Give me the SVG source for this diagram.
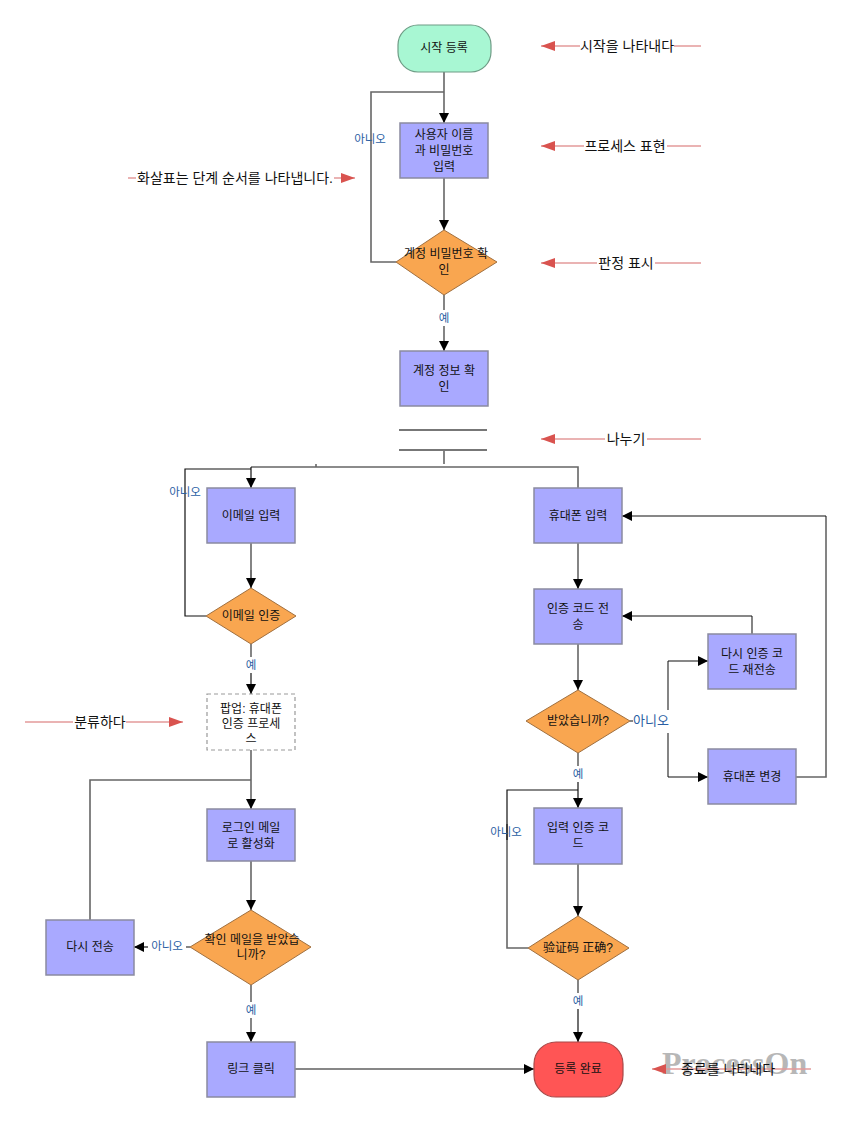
<svg xmlns="http://www.w3.org/2000/svg" width="851" height="1122" viewBox="0 0 851 1122">
<defs>
<marker id="arr" viewBox="0 0 10 10" refX="10" refY="5" markerWidth="10" markerHeight="10" markerUnits="userSpaceOnUse" orient="auto">
<path d="M0,0 L10,5 L0,10 z" fill="#000"/>
</marker>
<marker id="rarr" viewBox="0 0 14 10" refX="14" refY="5" markerWidth="14" markerHeight="10" markerUnits="userSpaceOnUse" orient="auto">
<path d="M0,0 L14,5 L0,10 z" fill="#d9534f"/>
</marker>
<style>
text{font-family:"Liberation Sans","Noto Sans CJK KR","Noto Sans CJK SC",sans-serif;}
.t{font-size:12px;fill:#111;text-anchor:middle;}
.a{font-size:14px;fill:#111;text-anchor:middle;}
.lbl{font-size:11.5px;fill:#2a5ea3;text-anchor:middle;}
.proc{fill:#a9a9ff;stroke:#8a8aa0;stroke-width:1.5;}
.dec{fill:#f9a650;stroke:#a07040;stroke-width:1;}
.c{fill:none;stroke:#666;stroke-width:1.6;}
.cb{fill:none;stroke:#111;stroke-width:1.2;}
.ann{fill:none;stroke:#e39a9a;stroke-width:1.5;}
</style>
</defs>
<rect width="851" height="1122" fill="#fff"/>

<g id="connectors">
<path class="c" d="M444,72 V123" marker-end="url(#arr)"/>
<path class="c" d="M396,262 H371 V92 H444"/>
<path class="c" d="M444,178 V230" marker-end="url(#arr)"/>
<path class="c" d="M444,295 V310"/>
<path class="c" d="M444,326 V351" marker-end="url(#arr)"/>
<path class="c" d="M444,450 V464"/>
<path class="c" d="M251,467 H578 V488"/>
<path class="c" d="M316,464 V467"/>
<path class="cb" d="M251,467 V488" marker-end="url(#arr)"/>
<path class="cb" d="M206,616 H185 V469 H251"/>
<path class="c" d="M251,543 V570"/>
<path class="cb" d="M251,570 V588" marker-end="url(#arr)"/>
<path class="c" d="M251,644 V657"/>
<path class="cb" d="M251,673 V694" marker-end="url(#arr)"/>
<path class="c" d="M251,750 V809" marker-end="url(#arr)"/>
<path class="c" d="M90,920 V780 H251"/>
<path class="c" d="M251,861 V910" marker-end="url(#arr)"/>
<path class="c" d="M190,947 H186"/>
<path class="cb" d="M148,947 H134" marker-end="url(#arr)"/>
<path class="c" d="M251,985 V1002"/>
<path class="c" d="M251,1018 V1042" marker-end="url(#arr)"/>
<path class="cb" d="M295,1069 H534" marker-end="url(#arr)"/>
<path class="c" d="M578,543 V589" marker-end="url(#arr)"/>
<path class="c" d="M578,644 V690" marker-end="url(#arr)"/>
<path class="c" d="M630,721 H633"/>
<path class="c" d="M668,733 V777"/>
<path class="cb" d="M668,777 H708" marker-end="url(#arr)"/>
<path class="c" d="M668,710 V661"/>
<path class="cb" d="M668,661 H708" marker-end="url(#arr)"/>
<path class="c" d="M752,634 V616"/>
<path class="cb" d="M752,616 H622" marker-end="url(#arr)"/>
<path class="c" d="M796,777 H826 V516"/>
<path class="cb" d="M826,516 H622" marker-end="url(#arr)"/>
<path class="c" d="M578,753 V766"/>
<path class="cb" d="M578,782 V790"/>
<path class="cb" d="M578,790 V808" marker-end="url(#arr)"/>
<path class="c" d="M528,948 H507 V824"/>
<path class="cb" d="M507,840 V790 H578"/>
<path class="c" d="M578,864 V916" marker-end="url(#arr)"/>
<path class="c" d="M578,980 V993"/>
<path class="cb" d="M578,1009 V1042" marker-end="url(#arr)"/>
<text class="lbl" x="370" y="143">아니오</text>
<text class="lbl" x="444" y="322">예</text>
<text class="lbl" x="185" y="496">아니오</text>
<text class="lbl" x="251" y="669">예</text>
<text class="lbl" x="167" y="950">아니오</text>
<text class="lbl" x="251" y="1014">예</text>
<text class="lbl" x="651" y="725" style="font-size:13px">아니오</text>
<text class="lbl" x="578" y="778">예</text>
<text class="lbl" x="506" y="836">아니오</text>
<text class="lbl" x="578" y="1005">예</text>
</g>

<g id="start">
<rect x="398" y="25" width="93" height="47" rx="20" ry="20" fill="#a8f7d3" stroke="#6f9c86" stroke-width="1.2"/>
<text class="t" x="444" y="52">시작 등록</text>
</g>
<g id="input-user">
<rect class="proc" x="400" y="123" width="88" height="55"/>
<text class="t" x="444" y="139">사용자 이름</text>
<text class="t" x="444" y="155">과 비밀번호</text>
<text class="t" x="444" y="171">입력</text>
</g>
<g id="check-pw">
<polygon class="dec" points="444,230 497,262 444,295 396,262"/>
<text class="t" x="446" y="258">계정 비밀번호 확</text>
<text class="t" x="444" y="274">인</text>
</g>
<g id="account-info">
<rect class="proc" x="400" y="351" width="88" height="55"/>
<text class="t" x="444" y="375">계정 정보 확</text>
<text class="t" x="444" y="391">인</text>
</g>
<g id="fork">
<line x1="399" y1="430" x2="487" y2="430" stroke="#777" stroke-width="2"/>
<line x1="399" y1="450" x2="487" y2="450" stroke="#777" stroke-width="2"/>
</g>
<g id="email-input">
<rect class="proc" x="207" y="488" width="88" height="55"/>
<text class="t" x="251" y="520">이메일 입력</text>
</g>
<g id="email-verify">
<polygon class="dec" points="251,588 296,616 251,644 206,616"/>
<text class="t" x="251" y="620">이메일 인증</text>
</g>
<g id="popup">
<rect x="207" y="694" width="88" height="56" fill="#fff" stroke="#999" stroke-width="1.2" stroke-dasharray="4,3"/>
<text class="t" x="251" y="713">팝업: 휴대폰</text>
<text class="t" x="251" y="728">인증 프로세</text>
<text class="t" x="251" y="743">스</text>
</g>
<g id="login-mail">
<rect class="proc" x="207" y="809" width="88" height="52"/>
<text class="t" x="251" y="832">로그인 메일</text>
<text class="t" x="251" y="848">로 활성화</text>
</g>
<g id="confirm-mail">
<polygon class="dec" points="251,910 311,947 251,985 190,947"/>
<text class="t" x="252" y="944">확인 메일을 받았습</text>
<text class="t" x="251" y="959">니까?</text>
</g>
<g id="resend">
<rect class="proc" x="46" y="920" width="88" height="55"/>
<text class="t" x="90" y="951">다시 전송</text>
</g>
<g id="click-link">
<rect class="proc" x="207" y="1042" width="88" height="55"/>
<text class="t" x="251" y="1073">링크 클릭</text>
</g>
<g id="phone-input">
<rect class="proc" x="534" y="488" width="88" height="55"/>
<text class="t" x="578" y="520">휴대폰 입력</text>
</g>
<g id="send-code">
<rect class="proc" x="534" y="589" width="88" height="55"/>
<text class="t" x="578" y="613">인증 코드 전</text>
<text class="t" x="578" y="629">송</text>
</g>
<g id="received">
<polygon class="dec" points="578,690 630,721 578,753 526,721"/>
<text class="t" x="578" y="725">받았습니까?</text>
</g>
<g id="resend-code">
<rect class="proc" x="708" y="634" width="88" height="55"/>
<text class="t" x="752" y="658">다시 인증 코</text>
<text class="t" x="752" y="674">드 재전송</text>
</g>
<g id="change-phone">
<rect class="proc" x="708" y="749" width="88" height="55"/>
<text class="t" x="752" y="781">휴대폰 변경</text>
</g>
<g id="enter-code">
<rect class="proc" x="534" y="808" width="88" height="56"/>
<text class="t" x="578" y="832">입력 인증 코</text>
<text class="t" x="578" y="848">드</text>
</g>
<g id="code-correct">
<polygon class="dec" points="578,916 629,948 578,980 528,948"/>
<text class="t" x="578" y="952">验证码 正确?</text>
</g>
<g id="end">
<rect x="534" y="1042" width="89" height="55" rx="22" ry="22" fill="#ff5555" stroke="#a84848" stroke-width="1.2"/>
<text class="t" x="578" y="1073">등록 완료</text>
</g>

<g id="watermark">
<text x="662" y="1074" style="font-family:'Liberation Serif',serif;font-size:32px;font-weight:bold;fill:#9a9a9a;opacity:0.7">ProcessOn</text>
</g>

<g id="annotations">
<path class="ann" d="M701,46 H674 M580,46 H541" marker-end="url(#rarr)"/>
<text class="a" x="627" y="51">시작을 나타내다</text>
<path class="ann" d="M701,146 H667 M584,146 H541" marker-end="url(#rarr)"/>
<text class="a" x="625" y="151">프로세스 표현</text>
<path class="ann" d="M128,178 H136 M334,178 H355" marker-end="url(#rarr)"/>
<text class="a" x="235" y="183">화살표는 단계 순서를 나타냅니다.</text>
<path class="ann" d="M701,263 H655 M597,263 H541" marker-end="url(#rarr)"/>
<text class="a" x="626" y="268">판정 표시</text>
<path class="ann" d="M701,439 H647 M605,439 H541" marker-end="url(#rarr)"/>
<text class="a" x="626" y="444">나누기</text>
<path class="ann" d="M25,722 H73 M126,722 H183" marker-end="url(#rarr)"/>
<text class="a" x="100" y="727">분류하다</text>
<path class="ann" d="M811,1069 H652" marker-end="url(#rarr)"/>
<text class="a" x="728" y="1074">종료를 나타내다</text>
</g>
</svg>
